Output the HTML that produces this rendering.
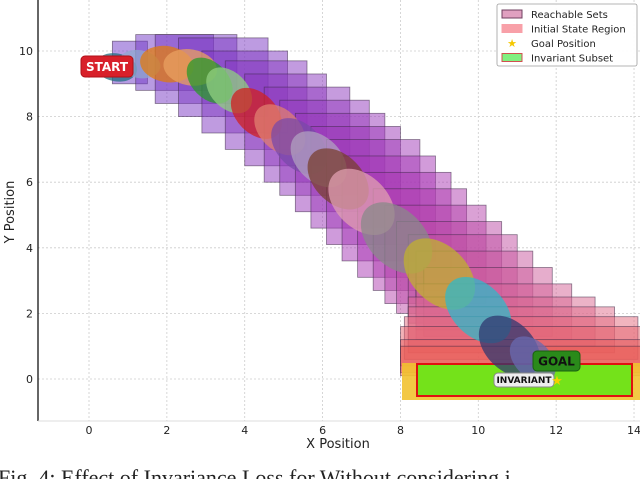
<!DOCTYPE html>
<html><head><meta charset="utf-8"><style>
html,body{margin:0;padding:0;background:#fff;width:640px;height:479px;overflow:hidden}
svg{display:block}
</style></head><body>
<svg id="chart" width="640" height="479" viewBox="0 0 640 479" xmlns="http://www.w3.org/2000/svg" font-family="'DejaVu Sans','Liberation Sans',sans-serif">
<g id="grid"></g>
<g id="boxes"></g>
<g id="regions"></g>
<g id="clusters"></g>
<g id="axes"></g>
<g id="labels"></g>
<g id="legend"></g>
<text x="-2" y="485" font-family="'Liberation Serif',serif" font-size="22" fill="#222">Fig. 4: Effect of Invariance Loss for Without considering i</text>
</svg>
<script>
const xTicks=[0,2,4,6,8,10,12,14];
const yTicks=[0,2,4,6,8,10];
// reachable boxes: [x0,x1,y0,y1]
const boxX0=[0.6,1.2,1.7,2.3,2.9,3.5,4.0,4.5,4.9,5.3,5.7,6.1,6.5,6.9,7.3,7.6,7.9,8.2,8.4,8.6,8.4,8.2,8.2,8.1,8.0,8.0,8.0];
const boxX1=[1.5,3.2,3.8,4.6,5.1,5.6,6.1,6.7,7.2,7.6,8.0,8.5,8.9,9.3,9.7,10.2,10.6,11.0,11.4,11.9,12.4,13.0,13.5,14.1,14.2,14.2,14.2];
const boxY0=[9.0,8.8,8.4,8.0,7.5,7.0,6.5,6.0,5.6,5.1,4.6,4.1,3.6,3.1,2.7,2.3,2.0,1.7,1.5,1.3,1.2,1.0,0.8,0.6,0.4,0.2,0.1];
const boxY1=[10.3,10.5,10.5,10.4,10.0,9.7,9.3,8.9,8.5,8.1,7.7,7.3,6.8,6.3,5.8,5.3,4.8,4.4,3.9,3.4,2.9,2.5,2.2,1.9,1.6,1.2,1.0];
// trajectory clusters
const clX=[0.7,1.3,2.0,2.6,3.1,3.6,4.3,4.9,5.4,5.9,6.4,7.0,7.9,9.0,10.0,10.8,11.4];
const clY=[9.5,9.6,9.6,9.5,9.1,8.8,8.1,7.6,7.1,6.7,6.1,5.4,4.3,3.2,2.1,1.0,0.6];
const clR=[0.7,0.7,0.9,0.9,0.9,0.9,1.0,1.0,1.1,1.1,1.2,1.3,1.4,1.4,1.3,1.2,0.9];
const clC=['#1f6f80','#8fa8d0','#e07b10','#e8a060','#2a9a2a','#90d080','#d02020','#e08070','#7a4aa8','#b0a0c0','#7a4030','#e0a0b0','#8a8a8a','#c0b030','#30b8c8','#303870','#6a6ab0'];
const NS='http://www.w3.org/2000/svg';
const X=v=>89+v*38.93, Y=v=>379-v*32.8;
function mk(p,t,a){const e=document.createElementNS(NS,t);for(const k in a)e.setAttribute(k,a[k]);p.appendChild(e);return e;}
const g=id=>document.getElementById(id);
const L=38,R=640,T=0,B=421;
xTicks.forEach(v=>{const l=mk(g('grid'),'line',{x1:X(v),x2:X(v),y1:T,y2:B,stroke:'#ccc','stroke-dasharray':'2,2','stroke-width':0.8});


const t=mk(g('axes'),'text',{x:X(v),y:434,'text-anchor':'middle','font-size':11,fill:'#222'});t.textContent=v;

});
yTicks.forEach(v=>{const l=mk(g('grid'),'line',{x1:L,x2:R,y1:Y(v),y2:Y(v),stroke:'#ccc','stroke-dasharray':'2,2','stroke-width':0.8});


const t=mk(g('axes'),'text',{x:33,y:Y(v)+4,'text-anchor':'end','font-size':11,fill:'#222'});t.textContent=v;

});
const n=boxX0.length;
for(let i=0;i<n;i++){const f=i/(n-1);
let r,gg,b;
if(f<0.5){r=110+f*2*60;gg=55;b=200-f*2*20;}else if(f<0.85){const q=(f-0.5)/0.35;r=170+q*55;gg=55+q*55;b=180-q*40;}else{const q=(f-0.85)/0.15;r=225+q*10;gg=110-q*20;b=140-q*60;}
const rc=mk(g('boxes'),'rect',{x:X(boxX0[i]),y:Y(boxY1[i]),width:X(boxX1[i])-X(boxX0[i]),height:Y(boxY0[i])-Y(boxY1[i]),fill:`rgba(${r|0},${gg|0},${b|0},0.5)`,stroke:'rgba(60,40,70,0.6)','stroke-width':0.8});

}
const init=mk(g('regions'),'rect',{x:402,y:363,width:238,height:37,fill:'#f2c230',opacity:0.9});


const inv=mk(g('regions'),'rect',{x:417,y:364,width:215,height:32,fill:'#74e21a',stroke:'#e01010','stroke-width':2});


for(let i=0;i<clX.length;i++){const cx=X(clX[i]),cy=Y(clY[i]);
const e=mk(g('clusters'),'ellipse',{cx:cx,cy:cy,rx:clR[i]*30,ry:clR[i]*20,fill:clC[i],opacity:0.75,transform:`rotate(${i<4?10:45} ${cx} ${cy})`});

}
mk(g('axes'),'line',{x1:L,x2:L,y1:0,y2:B,stroke:'#000','stroke-width':1.2});
mk(g('axes'),'line',{x1:L,x2:R,y1:B,y2:B,stroke:'#ddd','stroke-width':1});
const xt=mk(g('axes'),'text',{x:338,y:448,'text-anchor':'middle','font-size':13,fill:'#222'});xt.textContent='X Position';


const yt=mk(g('axes'),'text',{x:14,y:212,'text-anchor':'middle','font-size':13,fill:'#222',transform:'rotate(-90 14 212)'});yt.textContent='Y Position';


function badge(x,y,w,h,fill,stroke,txt,col,fs,name){const gr=mk(g('labels'),'g',{});


mk(gr,'rect',{x:x,y:y,width:w,height:h,rx:4,fill:fill,stroke:stroke,'stroke-width':1});
const t=mk(gr,'text',{x:x+w/2,y:y+h/2+fs*0.36,'text-anchor':'middle','font-size':fs,'font-weight':'bold',fill:col});t.textContent=txt;}
badge(81,56,52,21,'#d8202a','#b01018','START','#fff',12,'start-label');
badge(533,351,47,20,'#2a8a1a','#1a6010','GOAL','#111',12,'goal-label');
badge(494,373,60,14,'#eee','#888','INVARIANT','#111',9,'invariant-label');
const st=mk(g('labels'),'text',{x:557,y:385,'text-anchor':'middle','font-size':13,fill:'#f5d000'});st.textContent='★';


const lg=g('legend');
mk(lg,'rect',{x:497,y:4,width:140,height:62,rx:2,fill:'#fff',stroke:'#999','stroke-width':0.8,opacity:0.95});
const items=[['Reachable Sets','#e0a0c0','#704060'],['Initial State Region','#f8a0a8','#f8a0a8'],['Goal Position',null,null],['Invariant Subset','#80f080','#d05050']];
items.forEach((it,i)=>{const y=14+i*14.5;
if(it[1]){const s=mk(lg,'rect',{x:502,y:y-4,width:20,height:8,fill:it[1],stroke:it[2]});

}
else{const s=mk(lg,'text',{x:512,y:y+4,'text-anchor':'middle','font-size':11,fill:'#f5c800'});s.textContent='★';

}
const t=mk(lg,'text',{x:531,y:y+4,'font-size':10,fill:'#222'});t.textContent=it[0];

});
</script>
</body></html>
